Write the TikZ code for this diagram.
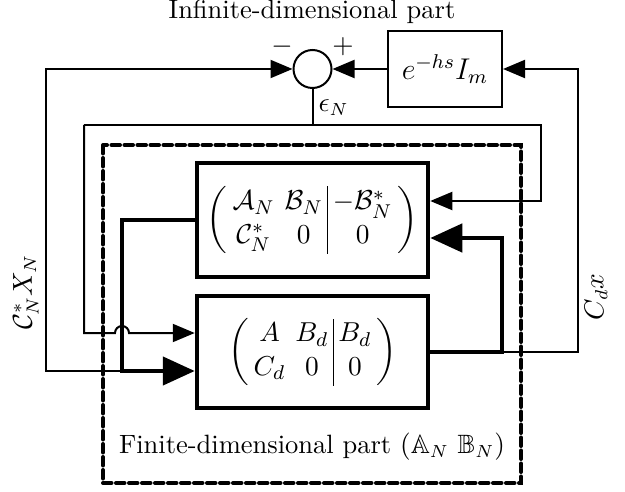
\documentclass[tikz,border=0pt]{standalone}
\usepackage{amsmath,amssymb}
\usetikzlibrary{arrows.meta,calc}
\setlength{\arraycolsep}{2pt}
\begin{document}
\begin{tikzpicture}[x=0.4pt,y=-0.4pt,
  thinline/.style={line width=0.8pt},
  thickline/.style={line width=1.8pt},
  thinarrow/.style={-{Triangle[length=8.8pt,width=7.2pt]}},
  thickarrow/.style={-{Triangle[length=12.8pt,width=11.2pt]}},
  blockbox/.style={draw,thickline,rectangle,inner sep=0pt,minimum width=92.4pt},
  txt/.style={font=\fontsize{10.6}{12.7}\selectfont,inner sep=0pt},
  mathtxt/.style={font=\fontsize{11.2}{13.4}\selectfont,inner sep=0pt},
  dashbox/.style={draw,line width=1.6pt,dash pattern=on 3.4pt off 1.8pt,line cap=round}
]
\useasboundingbox (0,0) rectangle (625,492);
% nodes
\node[txt] (title) at (312,12) {Infinite-dimensional part};
\node[draw,thinline,circle,minimum size=15.2pt,inner sep=0pt] (sum) at (312.5,69) {};
\node[draw,thinline,rectangle,minimum width=45.6pt,minimum height=30.4pt,inner sep=0pt,font=\fontsize{12}{14}\selectfont] (delay) at (445,69) {$e^{-hs}I_m$};
\node[blockbox,minimum height=45.6pt,mathtxt] (upper) at (312.5,220)
  {$\left(\begin{array}{cc|c}\mathcal{A}_N & \mathcal{B}_N & -\mathcal{B}_N^*\\ \mathcal{C}_N^* & 0 & 0\end{array}\right)$};
\node[blockbox,minimum height=44.8pt,mathtxt] (lower) at (312.5,352)
  {$\left(\begin{array}{cc|c}A & B_d & B_d\\ C_d & 0 & 0\end{array}\right)$};
\draw[dashbox] (103,145) rectangle (521,483);
\node[txt] (fin) at (312,447) {Finite-dimensional part $(\mathbb{A}_N\ \mathbb{B}_N)$};
\node[txt] (minus) at (282,47) {$-$};
\node[txt] (plus) at (343,47) {$+$};
\node[txt,anchor=west] (eps) at (318,108) {$\epsilon_N$};
\node[txt,rotate=90] (cdx) at (596,297) {$C_d x$};
\node[txt,rotate=90] (cnx) at (26,292) {$\mathcal{C}_N^* X_N$};
% coordinates
\coordinate (split) at (502,352);
\coordinate (join) at (122,371);
\coordinate (epsbot) at (312.5,125);
\coordinate (epsL) at (84,125);
\coordinate (epsR) at (541,125);
\coordinate (hopA) at (115,333);
\coordinate (upin1) at ($(upper.east)+(0,-19)$);
\coordinate (upin2) at ($(upper.east)+(0,18)$);
\coordinate (lowin1) at ($(lower.west)+(0,-19)$);
\coordinate (lowin2) at ($(lower.west)+(0,19)$);
% connectors
\draw[thinline,thinarrow] (delay.west) -- (sum.east);
\draw[thinline,thinarrow] (split) -- (578,352) |- (delay.east);
\draw[thickline,thickarrow] (lower.east) -- (split) |- (upin2);
\draw[thinline] (sum.south) -- (epsbot);
\draw[thinline,thinarrow] (epsL) -- (epsR) |- (upin1);
\draw[thinline,thinarrow] (epsL) |- (hopA) arc[start angle=180,end angle=0,radius=2.8pt] -- (lowin1);
\draw[thickline,thickarrow] (upper.west) -| (join) -- (lowin2);
\draw[thinline,thinarrow] (join) -- (46,371) |- (sum.west);
\end{tikzpicture}
\end{document}
